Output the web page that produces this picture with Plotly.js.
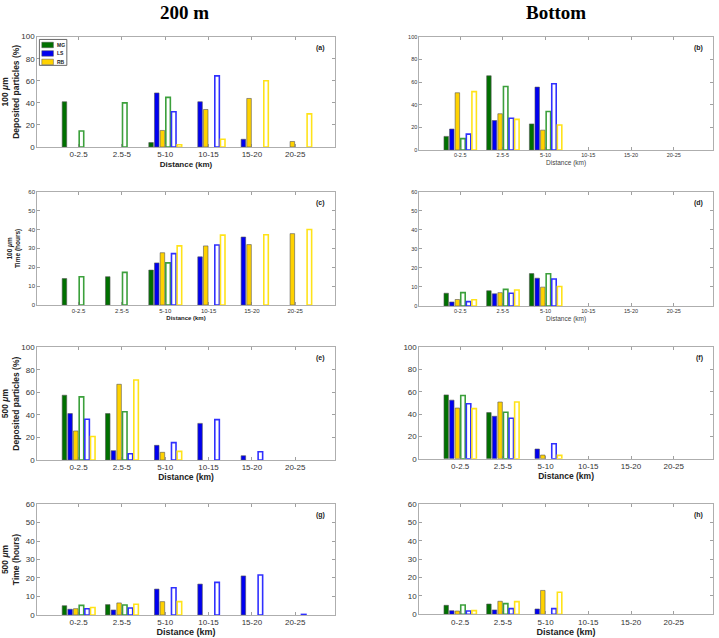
<!DOCTYPE html>
<html>
<head>
<meta charset="utf-8">
<script src="https://cdn.plot.ly/plotly-3.0.1.min.js"></script>
<style>html,body{margin:0;padding:0;background:#fff}#chart{width:719px;height:638px}</style>
</head>
<body>
<div id="chart"></div>
<script>
// Distance bins on every x axis
const distances = ['0-2.5', '2.5-5', '5-10', '10-15', '15-20', '20-25'];
const seriesNames = ['MG', 'LS', 'RB'];

// rows: MG, LS, RB (filled bars) then MG, LS, RB (open bars)
// (a) 100 um, deposited particles, 200 m
const panelA = [
    [41, 0, 4, 0, 0, 0],
    [0, 0, 49, 41, 7, 0],
    [0, 0, 15, 34, 44, 5],
    [14.5, 40, 45, 0, 0, 0],
    [0, 0, 32, 64.5, 0, 0],
    [0, 0, 2, 7, 60, 30]
];
// (b) 100 um, deposited particles, bottom
const panelB = [
    [12, 65.5, 23, 0, 0, 0],
    [18.5, 26, 55.5, 0, 0, 0],
    [50.5, 32, 17.5, 0, 0, 0],
    [10, 56, 34, 0, 0, 0],
    [14, 28, 58.5, 0, 0, 0],
    [51.5, 27, 22, 0, 0, 0]
];
// (c) 100 um, time, 200 m
const panelC = [
    [14, 15, 18.5, 0, 0, 0],
    [0, 0, 22.3, 25.5, 36, 0],
    [0, 0, 27.7, 31.3, 32, 37.8],
    [15, 17.3, 22.3, 0, 0, 0],
    [0, 0, 27.2, 31.8, 0, 0],
    [0, 0, 31.3, 37, 37.2, 40]
];
// (d) 100 um, time, bottom
const panelD = [
    [6.7, 8, 17, 0, 0, 0],
    [2.1, 6.4, 14.6, 0, 0, 0],
    [3.4, 7, 9.9, 0, 0, 0],
    [7, 8.7, 16.9, 0, 0, 0],
    [2.3, 6.7, 14.2, 0, 0, 0],
    [3.3, 8.4, 10.2, 0, 0, 0]
];
// (e) 500 um, deposited particles, 200 m
const panelE = [
    [57.5, 41.2, 0, 0, 0, 0],
    [41.2, 8.3, 13, 32.5, 3.8, 0],
    [25.8, 67.2, 6.8, 0, 0, 0],
    [56, 42.8, 0, 0, 0, 0],
    [36.2, 5.6, 15.4, 35.8, 7.3, 0],
    [20.8, 71, 7.7, 0, 0, 0]
];
// (f) 500 um, deposited particles, bottom
const panelF = [
    [57.3, 41.4, 0, 0, 0, 0],
    [52.6, 38.1, 8.7, 0, 0, 0],
    [45.5, 50.9, 3.3, 0, 0, 0],
    [56.7, 41.7, 0, 0, 0, 0],
    [49.4, 36.3, 13.5, 0, 0, 0],
    [45, 50.9, 3, 0, 0, 0]
];
// (g) 500 um, time, 200 m
const panelG = [
    [5, 5.6, 0, 0, 0, 0],
    [3.1, 2.7, 14, 16.7, 21.1, 0],
    [3.4, 6.5, 7.2, 0, 0, 0],
    [5.2, 5.4, 0, 0, 0, 0],
    [3.4, 3.8, 14.7, 17.6, 21.6, 0.3],
    [4, 5.8, 7.2, 0, 0, 0]
];
// (h) 500 um, time, bottom
const panelH = [
    [4.9, 5.6, 0, 0, 0, 0],
    [2, 2.4, 2.9, 0, 0, 0],
    [1.8, 7.1, 13, 0, 0, 0],
    [5.1, 5.8, 0, 0, 0, 0],
    [1.8, 3.1, 3.1, 0, 0, 0],
    [2, 6.9, 12, 0, 0, 0]
];

const fillColors = ['#007000', '#0000f0', '#ffd200'];
const openColors = ['#3ca03c', '#3030ff', '#ffe31a'];

const LEFT = [0.0515, 0.466];
const RIGHT = [0.583, 0.9917];

// panel setup: data, domains, label, fonts
const panels = [
    {data: panelA, xd: LEFT, yd: [0.7696, 0.9425], tag: '(a)', ymax: 100, dt: 20, tick: 8, xt: 8, xtBold: true,
     ytitle: '100 <i>μ</i>m<br>Deposited particles (%)', ytSize: 8.5, ytStand: 5},
    {data: panelB, xd: RIGHT, yd: [0.7649, 0.9425], tag: '(b)', ymax: 100, dt: 20, tick: 5.5, xt: 6.5, xtBold: false},
    {data: panelC, xd: LEFT, yd: [0.5219, 0.6995], tag: '(c)', ymax: 60, dt: 10, tick: 6, xt: 6, xtBold: true,
     ytitle: '100 <i>μ</i>m<br>Time (hours)', ytSize: 6.5, ytStand: 6},
    {data: panelD, xd: RIGHT, yd: [0.5204, 0.6995], tag: '(d)', ymax: 60, dt: 10, tick: 5.5, xt: 6.5, xtBold: false},
    {data: panelE, xd: LEFT, yd: [0.2790, 0.4556], tag: '(e)', ymax: 100, dt: 20, tick: 8, xt: 8.5, xtBold: true,
     ytitle: '500 <i>μ</i>m<br>Deposited particles (%)', ytSize: 8.5, ytStand: 5},
    {data: panelF, xd: RIGHT, yd: [0.2810, 0.4556], tag: '(f)', ymax: 100, dt: 20, tick: 8, xt: 8.5, xtBold: true},
    {data: panelG, xd: LEFT, yd: [0.0361, 0.2100], tag: '(g)', ymax: 60, dt: 10, tick: 8, xt: 9, xtBold: true,
     ytitle: '500 <i>μ</i>m<br>Time (hours)', ytSize: 8.5, ytStand: 5},
    {data: panelH, xd: RIGHT, yd: [0.0371, 0.2100], tag: '(h)', ymax: 60, dt: 10, tick: 8, xt: 9, xtBold: true}
];

const traces = [];
const serifFont = '"Liberation Serif", "DejaVu Serif", serif';
const layout = {
    width: 719,
    height: 638,
    margin: {l: 0, r: 0, t: 0, b: 0},
    paper_bgcolor: '#fff',
    plot_bgcolor: '#fff',
    barmode: 'group',
    bargap: 0.215,
    bargroupgap: 0.2,
    font: {family: '"Liberation Sans", Arial, sans-serif', color: '#222'},
    showlegend: false,
    shapes: [],
    annotations: [
        {text: '200 m', xref: 'paper', yref: 'paper', x: 184 / 719, y: 1, xanchor: 'center', yanchor: 'top',
         showarrow: false, font: {family: serifFont, size: 19, weight: 'bold', color: '#000'}},
        {text: 'Bottom', xref: 'paper', yref: 'paper', x: 556 / 719, y: 1, xanchor: 'center', yanchor: 'top',
         showarrow: false, font: {family: serifFont, size: 19, weight: 'bold', color: '#000'}}
    ]
};

panels.forEach(function (p, i) {
    const n = i === 0 ? '' : String(i + 1);
    for (let s = 0; s < 6; s++) {
        const filled = s < 3;
        traces.push({
            type: 'bar',
            x: distances,
            // empty bins are not drawn
            y: p.data[s].map(v => v === 0 ? null : v),
            xaxis: 'x' + n,
            yaxis: 'y' + n,
            name: seriesNames[s % 3],
            marker: filled
                ? {color: fillColors[s], line: {color: '#555', width: 0.6}}
                : {color: 'rgba(255,255,255,0)', line: {color: openColors[s - 3], width: 1.6}}
        });
    }
    const axisLine = {
        showline: true, linecolor: '#9a9a9a', linewidth: 0.8, mirror: 'ticks',
        ticks: 'inside', ticklen: 3, tickwidth: 0.7, tickcolor: '#777',
        showgrid: false, zeroline: false
    };
    layout['xaxis' + n] = Object.assign({}, axisLine, {
        domain: p.xd,
        anchor: 'y' + n,
        type: 'category',
        range: [-0.96, 5.92],
        tickfont: {size: p.tick, color: '#333'},
        title: {text: 'Distance (km)', standoff: 2,
                font: {size: p.xt, weight: p.xtBold ? 'bold' : 'normal', color: p.xtBold ? '#222' : '#444'}}
    });
    const yax = Object.assign({}, axisLine, {
        domain: p.yd,
        anchor: 'x' + n,
        range: [0, p.ymax],
        dtick: p.dt,
        tickfont: {size: p.tick, color: '#333'}
    });
    if (p.ytitle) {
        yax.title = {text: p.ytitle, standoff: p.ytStand, font: {size: p.ytSize, weight: 'bold', color: '#222'}};
    }
    layout['yaxis' + n] = yax;
    layout.annotations.push({
        text: '<b>' + p.tag + '</b>', xref: 'x' + n + ' domain', yref: 'y' + n + ' domain',
        x: 1, y: 1, xanchor: 'right', yanchor: 'top', xshift: -8, yshift: -5,
        showarrow: false, font: {size: 7, color: '#222'}
    });
});

// small boxed key in the top-left corner of panel (a)
layout.shapes.push({type: 'rect', xref: 'x domain', yref: 'y domain', x0: 0.008, x1: 0.1, y0: 0.74, y1: 0.975,
    line: {color: '#444', width: 0.8}, fillcolor: '#fff'});
seriesNames.forEach(function (name, s) {
    const yTop = 0.95 - s * 0.077;
    layout.shapes.push({type: 'rect', xref: 'x domain', yref: 'y domain', x0: 0.016, x1: 0.055,
        y0: yTop - 0.05, y1: yTop, line: {color: '#555', width: 0.5}, fillcolor: fillColors[s]});
    layout.annotations.push({text: '<b>' + name + '</b>', xref: 'x domain', yref: 'y domain',
        x: 0.06, y: yTop - 0.025, xanchor: 'left', yanchor: 'middle', showarrow: false,
        font: {size: 5, color: '#222'}});
});

Plotly.newPlot('chart', traces, layout, {displayModeBar: false, staticPlot: true});
</script>
</body>
</html>
